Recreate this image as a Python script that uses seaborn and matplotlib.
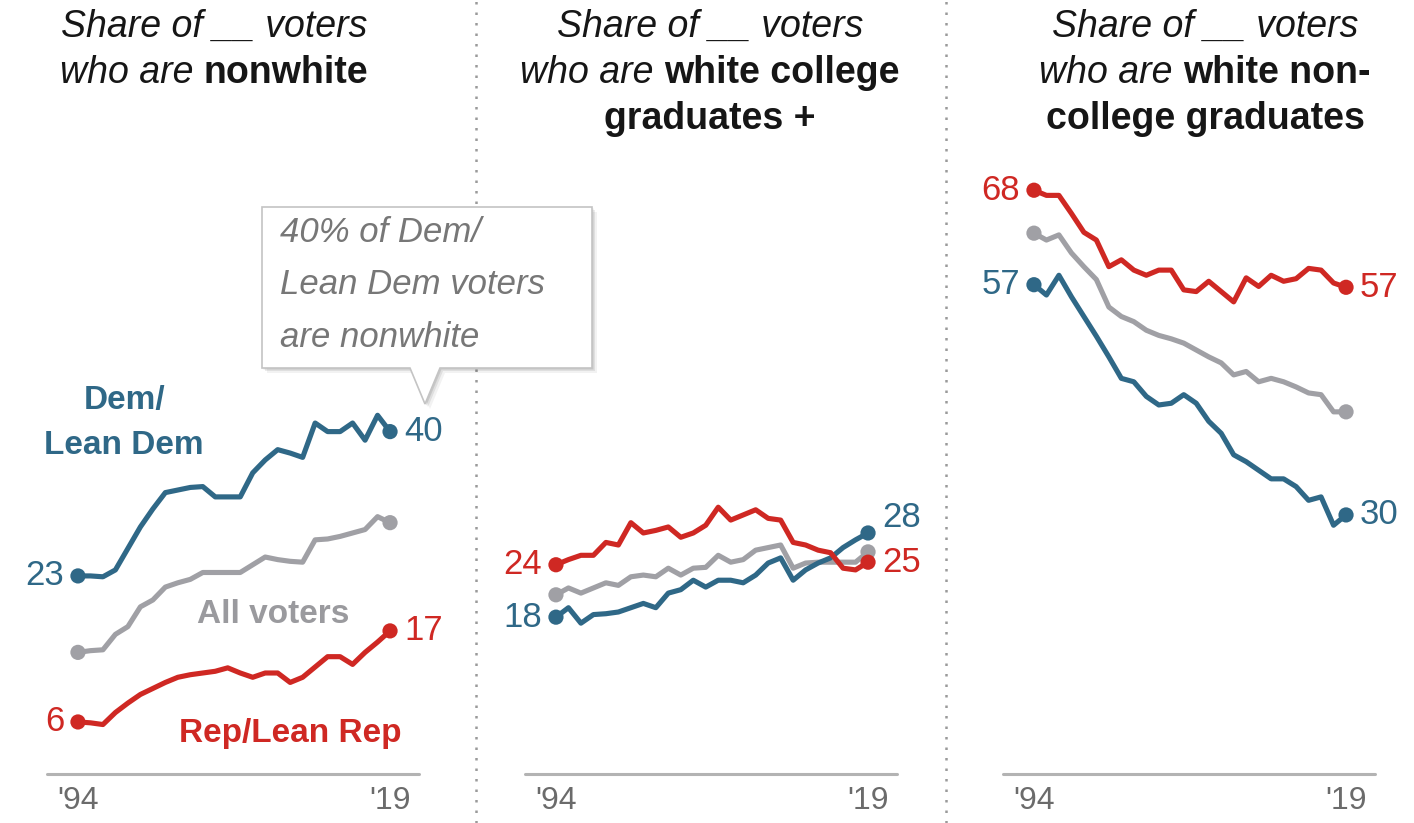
import matplotlib
matplotlib.use('Agg')
import matplotlib.pyplot as plt
import seaborn as sns
import pandas as pd
from matplotlib.lines import Line2D
from matplotlib.patches import Polygon

# Data: share of each party's registered voters, 1994-2019
years = list(range(1994, 2020))

nonwhite_dem = [23.0, 23.0, 22.9, 23.7, 26.2, 28.7, 30.8, 32.7, 33.0, 33.3, 33.4, 32.2, 32.2,
                32.2, 35.0, 36.5, 37.7, 37.3, 36.8, 40.8, 39.8, 39.8, 40.8, 38.8, 41.7, 39.8]
nonwhite_all = [14.1, 14.3, 14.4, 16.2, 17.1, 19.4, 20.2, 21.7, 22.2, 22.6, 23.4, 23.4, 23.4,
                23.4, 24.3, 25.2, 24.9, 24.7, 24.6, 27.2, 27.3, 27.6, 28.0, 28.4, 29.9, 29.2]
nonwhite_rep = [6.0, 5.9, 5.7, 7.1, 8.2, 9.2, 9.9, 10.6, 11.2, 11.5, 11.7, 11.9, 12.3,
                11.7, 11.2, 11.7, 11.7, 10.6, 11.2, 12.4, 13.6, 13.6, 12.7, 14.1, 15.3, 16.6]

college_dem = [18.2, 19.3, 17.5, 18.5, 18.6, 18.8, 19.3, 19.8, 19.3, 21.0, 21.4, 22.5, 21.7,
               22.5, 22.5, 22.2, 23.1, 24.5, 25.1, 22.5, 23.7, 24.5, 25.1, 26.3, 27.2, 28.0]
college_all = [20.8, 21.6, 21.0, 21.6, 22.2, 21.9, 22.9, 23.1, 22.9, 23.9, 23.1, 23.9, 24.0,
               25.4, 24.6, 24.9, 26.0, 26.3, 26.6, 23.9, 24.5, 24.6, 24.6, 24.6, 24.6, 25.8]
college_rep = [24.3, 24.9, 25.4, 25.4, 26.9, 26.6, 29.2, 28.0, 28.3, 28.7, 27.5, 28.0, 28.9,
               31.0, 29.5, 30.1, 30.7, 29.7, 29.5, 26.9, 26.6, 26.0, 25.7, 23.9, 23.7, 24.6]

noncollege_dem = [56.9, 55.7, 58.0, 55.5, 53.2, 50.9, 48.5, 46.0, 45.6, 43.9, 42.9, 43.1, 44.1,
                  43.1, 41.0, 39.6, 37.1, 36.3, 35.3, 34.3, 34.3, 33.4, 31.8, 32.2, 28.9, 30.1]
noncollege_all = [62.9, 62.1, 62.7, 60.6, 59.0, 57.5, 54.3, 53.2, 52.6, 51.6, 51.0, 50.6, 50.1,
                  49.3, 48.5, 47.8, 46.4, 46.8, 45.6, 46.0, 45.6, 45.0, 44.3, 44.1, 42.1, 42.1]
noncollege_rep = [67.9, 67.3, 67.3, 65.2, 63.0, 62.1, 59.0, 59.8, 58.6, 58.0, 58.6, 58.6, 56.3,
                  56.1, 57.3, 56.1, 54.9, 57.7, 56.7, 58.0, 57.3, 57.6, 58.8, 58.6, 57.1, 56.6]

tick_years = [1994, 2019]
tick_labels = ["'94", "'19"]

BLUE = '#2F6887'
RED = '#CF2823'
GRAY = '#A0A0A5'
palette = {'All': GRAY, 'Dem': BLUE, 'Rep': RED}
order = ['All', 'Dem', 'Rep']

W, H = 1414, 823

sns.set_style('white')
plt.rcParams['font.family'] = ['Liberation Sans', 'DejaVu Sans']

fig = plt.figure(figsize=(W / 100, H / 100), dpi=100)


def make_df(dem, alls, rep):
    parts = []
    for name, vals in [('All', alls), ('Dem', dem), ('Rep', rep)]:
        parts.append(pd.DataFrame({'year': years, 'share': vals, 'party': name}))
    return pd.concat(parts, ignore_index=True)


panels = [
    make_df(nonwhite_dem, nonwhite_all, nonwhite_rep),
    make_df(college_dem, college_all, college_rep),
    make_df(noncollege_dem, noncollege_all, noncollege_rep),
]
lefts = [47, 525, 1003]
axes = []

for df, left in zip(panels, lefts):
    ax = fig.add_axes([left / W, 49.5 / H, 372 / W, 618.5 / H])
    sns.lineplot(data=df, x='year', y='share', hue='party', hue_order=order,
                 palette=palette, linewidth=3.7, legend=False, ax=ax)
    ends = df[df['year'].isin([years[0], years[-1]])]
    sns.scatterplot(data=ends, x='year', y='share', hue='party', hue_order=order,
                    palette=palette, s=120, edgecolor='none', legend=False, ax=ax, zorder=4)
    ax.set_xlim(1991.52, 2021.32)
    ax.set_ylim(0, 72)
    ax.axhline(0, color='#b3b3b3', lw=2.2, clip_on=False)
    ax.set_xticks(tick_years)
    ax.set_xticklabels(tick_labels, fontsize=23, color='#6b6b6b')
    ax.tick_params(axis='x', length=0, pad=9)
    ax.set_yticks([])
    ax.set_xlabel('')
    ax.set_ylabel('')
    sns.despine(ax=ax, left=True, bottom=True)
    ax.patch.set_alpha(0)
    axes.append(ax)


def end_labels(ax, dem, rep, dem_dy=(0, 0), rep_dy=(0, 0)):
    for vals, color, dy in [(dem, BLUE, dem_dy), (rep, RED, rep_dy)]:
        ax.annotate(f"{round(vals[0])}", (years[0], vals[0]), xytext=(-10, dy[0]),
                    textcoords='offset points', ha='right', va='center',
                    fontsize=25, color=color)
        ax.annotate(f"{round(vals[-1])}", (years[-1], vals[-1]), xytext=(10, dy[1]),
                    textcoords='offset points', ha='left', va='center',
                    fontsize=25, color=color)


end_labels(axes[0], nonwhite_dem, nonwhite_rep)
end_labels(axes[1], college_dem, college_rep, dem_dy=(0, 11))
end_labels(axes[2], noncollege_dem, noncollege_rep)

# Series labels in the first panel
ax0 = axes[0]
ax0.text(1997.7, 42.4, 'Dem/', ha='center', va='baseline', fontsize=24,
         weight='bold', color=BLUE)
ax0.text(1997.7, 37.2, 'Lean Dem', ha='center', va='baseline', fontsize=24,
         weight='bold', color=BLUE)
ax0.text(2009.6, 17.5, 'All voters', ha='center', va='baseline', fontsize=24,
         weight='bold', color='#9a9a9e')
ax0.text(2011.0, 3.7, 'Rep/Lean Rep', ha='center', va='baseline', fontsize=24,
         weight='bold', color=RED, clip_on=False)

# Dotted separators
for xs in [476, 946]:
    fig.add_artist(Line2D([xs / W, xs / W], [0, 1], color='#9a9a9a', lw=1.8,
                          linestyle=(0, (1, 3.2)), zorder=1))


# Titles with mixed italic / bold runs
def title_line(xc, base, parts, size=27):
    r = fig.canvas.get_renderer()
    gap = 0.28 * size * 100 / 72
    arts = []
    for txt, kind in parts:
        if kind == 'it':
            kw = dict(style='italic', weight='normal')
        else:
            kw = dict(weight='bold')
        t = fig.text(0, 1 - base / H, txt, fontsize=size, color='#161616',
                     va='baseline', ha='left', **kw)
        arts.append(t)
    widths = [t.get_window_extent(r).width for t in arts]
    total = sum(widths) + gap * (len(arts) - 1)
    x = xc - total / 2
    for t, w in zip(arts, widths):
        t.set_x(x / W)
        x += w + gap


titles = [
    (214, [[('Share of __ voters', 'it')],
           [('who are', 'it'), ('nonwhite', 'b')]]),
    (710, [[('Share of __ voters', 'it')],
           [('who are', 'it'), ('white college', 'b')],
           [('graduates +', 'b')]]),
    (1205, [[('Share of __ voters', 'it')],
            [('who are', 'it'), ('white non-', 'b')],
            [('college graduates', 'b')]]),
]
for xc, lines in titles:
    for i, parts in enumerate(lines):
        title_line(xc, 37 + 46 * i, parts)

# Callout box
box_px = [(262, 207), (592, 207), (592, 368), (440, 368), (425, 404), (410, 368), (262, 368)]
for off, a in [(5, 0.05), (3, 0.08), (1.5, 0.10)]:
    shadow = [((x + off) / W, 1 - (y + off) / H) for x, y in box_px]
    fig.add_artist(Polygon(shadow, closed=True, facecolor='#000000', alpha=a,
                           edgecolor='none', zorder=4))
fig.add_artist(Polygon([(x / W, 1 - y / H) for x, y in box_px], closed=True,
                       facecolor='white', edgecolor='#c4c4c4', lw=1.2, zorder=5))
for i, line in enumerate(['40% of Dem/', 'Lean Dem voters', 'are nonwhite']):
    fig.text(280 / W, 1 - (242 + 52.5 * i) / H, line, fontsize=25, style='italic',
             color='#777777', va='baseline', ha='left', zorder=6)

fig.savefig('out.png', dpi=100, facecolor='white')
